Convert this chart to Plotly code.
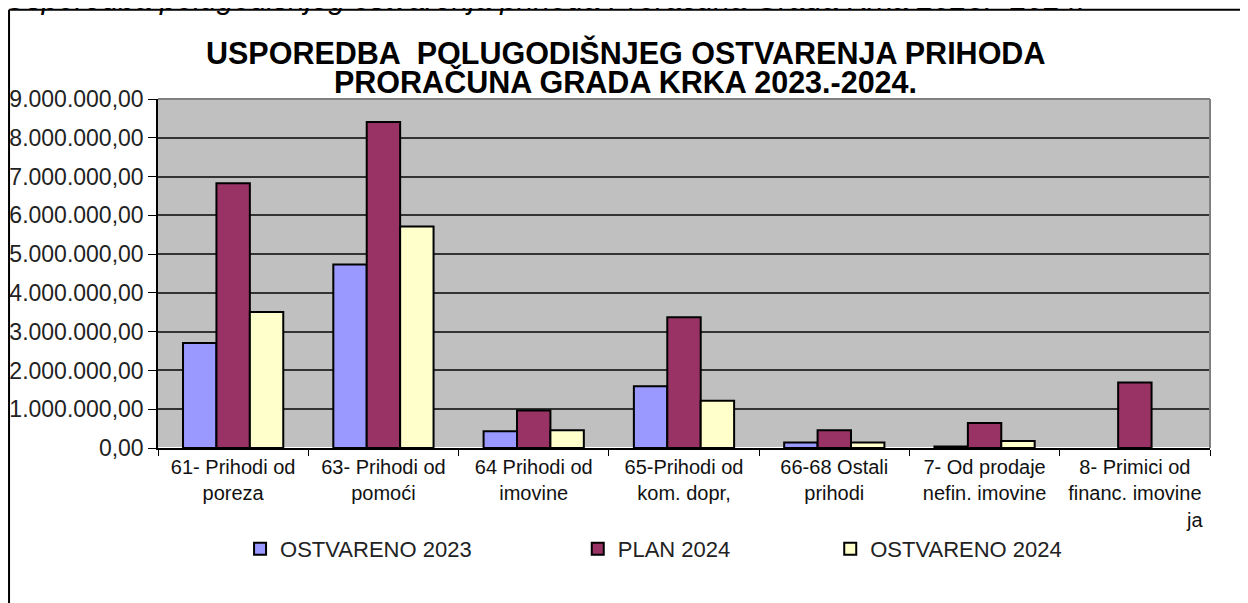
import plotly.graph_objects as go

# categories and values (EUR)
categories = ["61- Prihodi od<br>poreza", "63- Prihodi od<br>pomoći", "64 Prihodi od<br>imovine",
              "65-Prihodi od<br>kom. dopr,", "66-68 Ostali<br>prihodi", "7- Od prodaje<br>nefin. imovine",
              "8- Primici od<br>financ. imovine"]
ostvareno_2023 = [2710000, 4730000, 430000, 1590000, 145000, 40000, None]
plan_2024 = [6830000, 8410000, 970000, 3370000, 460000, 645000, 1690000]
ostvareno_2024 = [3510000, 5710000, 460000, 1220000, 140000, 180000, None]

series_names = ["OSTVARENO 2023", "PLAN 2024", "OSTVARENO 2024"]
series_colors = ["#9999FF", "#993366", "#FFFFCC"]
series_values = [ostvareno_2023, plan_2024, ostvareno_2024]
legend_ids = ["legend", "legend2", "legend3"]
legend_x = [0.078, 0.399, 0.639]

fig = go.Figure()
for name, col, vals, lg in zip(series_names, series_colors, series_values, legend_ids):
    fig.add_trace(go.Bar(x=categories, y=vals, name=name, legend=lg, showlegend=True,
                         marker=dict(color=col, line=dict(color="black", width=2))))

font_main = "Liberation Sans, Arial, sans-serif"
legend_common = dict(orientation="h", yanchor="middle", y=-0.289, xanchor="left",
                     font=dict(family=font_main, size=22, color="#222"), bgcolor="rgba(0,0,0,0)")

# the page adds an 8px body margin, so the margins are 8px smaller
fig.update_layout(
    width=1248, height=603,
    showlegend=True,
    margin=dict(l=150, r=46, t=91, b=163, autoexpand=False),
    paper_bgcolor="white", plot_bgcolor="#C0C0C0",
    separators=",.",
    barmode="group", bargap=0.333, bargroupgap=0,
    font=dict(family=font_main, color="#222"),
    legend=dict(x=legend_x[0], **legend_common),
    legend2=dict(x=legend_x[1], **legend_common),
    legend3=dict(x=legend_x[2], **legend_common),
    xaxis=dict(tickson="boundaries", ticks="outside", ticklen=6, tickcolor="black",
               showline=True, linecolor="black", linewidth=1.5, showgrid=False,
               tickfont=dict(size=20, color="#111")),
    yaxis=dict(range=[0, 9000000], dtick=1000000, tickformat=",.2f",
               ticks="outside", ticklen=8, tickcolor="black",
               showline=True, linecolor="black", linewidth=1.5,
               gridcolor="#333333", gridwidth=1.5,
               tickfont=dict(size=23, color="#222")),
    annotations=[
        dict(text="<b>USPOREDBA  POLUGODIŠNJEG OSTVARENJA PRIHODA</b>",
             xref="paper", yref="paper", x=0.444, y=1.132, xanchor="center", yanchor="middle",
             showarrow=False, font=dict(size=30.5, color="black", family=font_main)),
        dict(text="<b>PRORAČUNA GRADA KRKA 2023.-2024.</b>",
             xref="paper", yref="paper", x=0.444, y=1.049, xanchor="center", yanchor="middle",
             showarrow=False, font=dict(size=30.5, color="black", family=font_main)),
        dict(text="<i>Usporedba polugodišnjeg ostvarenja prihoda Proračuna Grada Krka 2023.- 2024.</i>",
             xref="paper", yref="paper", x=-0.147, y=1.288, xanchor="left", yanchor="middle",
             showarrow=False, font=dict(size=30, color="black", family=font_main)),
        dict(text="ja", xref="paper", yref="paper", x=0.9857, y=-0.205,
             xanchor="center", yanchor="middle", showarrow=False,
             font=dict(size=20, color="#111", family=font_main)),
    ],
    shapes=[
        # outer frame (top and left edges)
        dict(type="line", xref="paper", yref="paper", x0=-0.1416, x1=1.05, y0=1.256, y1=1.256,
             line=dict(color="black", width=2)),
        dict(type="line", xref="paper", yref="paper", x0=-0.1416, x1=-0.1416, y0=1.256, y1=-0.47,
             line=dict(color="black", width=2)),
        # plot area border on top/right
        dict(type="line", xref="paper", yref="paper", x0=0, x1=1, y0=1, y1=1,
             line=dict(color="#808080", width=2)),
        dict(type="line", xref="paper", yref="paper", x0=1, x1=1, y0=0, y1=1,
             line=dict(color="#808080", width=2)),
    ],
)

fig.write_html("out.html")
